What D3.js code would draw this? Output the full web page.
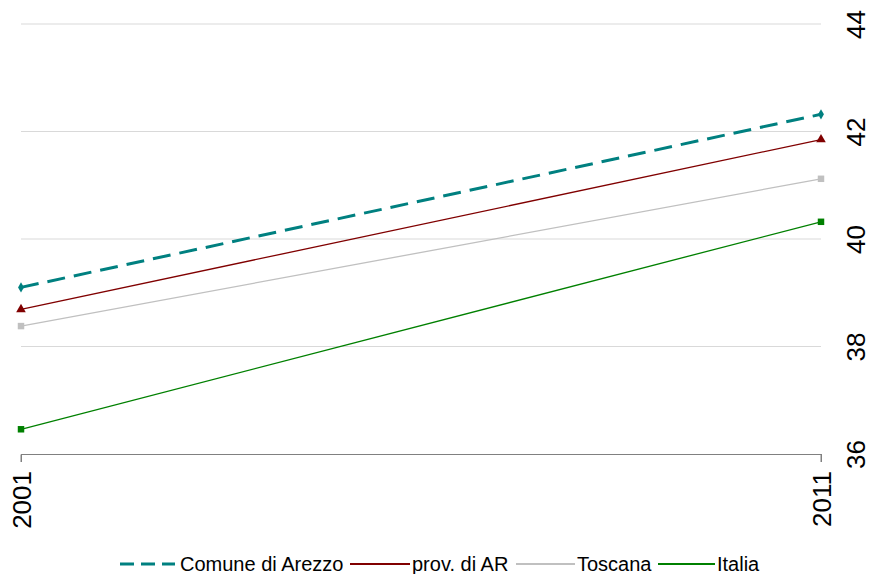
<!DOCTYPE html>
<html>
<head>
<meta charset="utf-8">
<script src="https://cdn.jsdelivr.net/npm/d3@7"></script>
<style>
  html, body { margin: 0; padding: 0; background: #ffffff; }
  svg { display: block; }
</style>
</head>
<body>
<svg id="chart" width="870" height="574"></svg>
<script>
const years = ["2001", "2011"];
const seriesNames = ["Comune di Arezzo", "prov. di AR", "Toscana", "Italia"];
const arezzoValues = [39.10, 42.32];
const provValues = [38.69, 41.85];
const toscanaValues = [38.38, 41.12];
const italiaValues = [36.46, 40.32];
const yTicks = [36, 38, 40, 42, 44];

const series = [
  { name: seriesNames[0], values: arezzoValues, color: "#008080", width: 3, dash: "18,9", marker: "diamond" },
  { name: seriesNames[1], values: provValues, color: "#800000", width: 1.3, dash: null, marker: "triangle" },
  { name: seriesNames[2], values: toscanaValues, color: "#c0c0c0", width: 1.3, dash: null, marker: "square" },
  { name: seriesNames[3], values: italiaValues, color: "#008000", width: 1.3, dash: null, marker: "square" }
];

const svg = d3.select("#chart");
const x = d3.scalePoint().domain(years).range([21, 821]);
const y = d3.scaleLinear().domain([36, 44]).range([454, 24]);

// gridlines
svg.append("g").selectAll("line").data(yTicks.filter(d => d > 36)).join("line")
  .attr("x1", 21).attr("x2", 821)
  .attr("y1", d => y(d)).attr("y2", d => y(d))
  .attr("stroke", "#d9d9d9").attr("stroke-width", 1);

// x axis
const xAxis = svg.append("g").attr("transform", `translate(0,${y(36)})`)
  .call(d3.axisBottom(x).tickSize(8).tickPadding(8));
xAxis.select(".domain").attr("stroke", "#808080").attr("d", `M21,8V0.5H821V8`);
xAxis.selectAll(".tick line").attr("stroke", "#808080");
xAxis.selectAll(".tick text")
  .attr("font-family", "'Liberation Sans', Arial, sans-serif")
  .attr("font-size", 26).attr("fill", "#000")
  .attr("text-anchor", "end")
  .attr("transform", "rotate(-90)")
  .attr("x", -17).attr("y", 0).attr("dy", "0.36em");

// y axis (right, no line)
const yAxis = svg.append("g").attr("transform", "translate(821,0)")
  .call(d3.axisRight(y).tickValues(yTicks).tickSize(0).tickPadding(0));
yAxis.select(".domain").remove();
yAxis.selectAll(".tick text")
  .attr("font-family", "'Liberation Sans', Arial, sans-serif")
  .attr("font-size", 26).attr("fill", "#000")
  .attr("text-anchor", "middle")
  .attr("transform", "rotate(-90)")
  .attr("x", 0).attr("y", 26).attr("dy", "0.71em");

// lines
const line = d3.line().x((d, i) => x(years[i])).y(d => y(d));
const symbolType = { diamond: d3.symbolDiamond, triangle: d3.symbolTriangle, square: d3.symbolSquare };
const symbolSize = { diamond: 30, triangle: 40, square: 42 };

// draw in reverse so Arezzo on top
series.slice().reverse().forEach(s => {
  svg.append("path").datum(s.values)
    .attr("d", line)
    .attr("fill", "none")
    .attr("stroke", s.color)
    .attr("stroke-width", s.width)
    .attr("stroke-dasharray", s.dash);
  svg.append("g").selectAll("path").data(s.values).join("path")
    .attr("transform", (d, i) => `translate(${x(years[i])},${y(d)})`)
    .attr("d", d3.symbol().type(symbolType[s.marker]).size(symbolSize[s.marker]))
    .attr("fill", s.color);
});

// legend
const legendItems = [
  { lx: 120, len: 55, tx: 180 },
  { lx: 350, len: 60, tx: 412 },
  { lx: 516, len: 59, tx: 577 },
  { lx: 658, len: 57, tx: 717 }
];
const ly = 564;
const lg = svg.append("g");
series.forEach((s, i) => {
  const it = legendItems[i];
  lg.append("line")
    .attr("x1", it.lx).attr("x2", it.lx + it.len)
    .attr("y1", ly).attr("y2", ly)
    .attr("stroke", s.color)
    .attr("stroke-width", i === 0 ? 3 : 2.2)
    .attr("stroke-dasharray", i === 0 ? "14,7" : null);
  lg.append("text")
    .attr("x", it.tx).attr("y", ly).attr("dy", "0.35em")
    .attr("font-family", "'Liberation Sans Narrow', 'Arial Narrow', 'Liberation Sans', sans-serif")
    .attr("font-size", 20).attr("fill", "#000")
    .text(s.name);
});
</script>
</body>
</html>
